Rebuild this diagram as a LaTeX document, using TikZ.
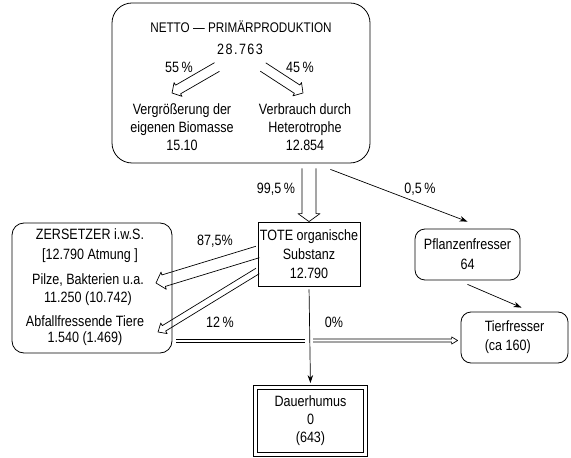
\documentclass[tikz,border=0pt]{standalone}
\usepackage{fontspec}
\setmainfont{Liberation Sans}[FakeStretch=0.84]
\usetikzlibrary{arrows.meta,calc,positioning}

\tikzset{
  box/.style={draw,line width=.8pt,rounded corners=10bp,inner sep=0pt},
  sqbox/.style={draw,line width=.8pt,inner sep=0pt},
  txt/.style={align=center,inner sep=0pt},
  flow/.style={line width=.7pt,-{Stealth[length=8bp,width=5.5bp]}},
  twin/.style={line width=.7pt},
}
% wide open arrow: from, to, half width, head length, head spread
\newcommand\hollowarrow[5]{%
  \draw[line width=.7pt,line join=round] let \p1=($(#2)-(#1)$), \n1={atan2(\y1,\x1)}, \n2={veclen(\x1,\y1)} in
    [shift={(#1)},rotate=\n1]
    (0pt,#3pt) -- (\n2-#4pt,#3pt) -- (\n2-#4pt,#3pt+#5pt) -- (\n2,0pt)
    -- (\n2-#4pt,-#3pt-#5pt) -- (\n2-#4pt,-#3pt) -- (0pt,-#3pt);}

\begin{document}
\begin{tikzpicture}[x=1bp,y=-1bp,every node/.style={font=\fontsize{15}{18}\selectfont}]
\useasboundingbox (0,0) rectangle (571,458);
% boxes
\node[box,rounded corners=20bp,minimum width=258bp,minimum height=160bp] (npp) at (241,83) {};
\node[box,rounded corners=12bp,minimum width=160bp,minimum height=130bp] (zers) at (92,288) {};
\node[sqbox,txt,minimum width=102bp,minimum height=64bp,font=\fontsize{15}{19}\selectfont] (tote) at (309,254) {TOTE organische\\Substanz\\12.790};
\node[box,txt,minimum width=105bp,minimum height=51bp,font=\fontsize{15}{20}\selectfont] (pflanz) at (467.5,254.5) {Pflanzenfresser\\64};
\node[box,align=left,minimum width=107bp,minimum height=51bp,font=\fontsize{15}{19}\selectfont] (tier) at (514.5,337.5) {Tierfresser\\(ca 160)};
\node[sqbox,txt,double,double distance=3bp,minimum width=110bp,minimum height=67bp] (dauer) at (310.5,421) {Dauerhumus\\0\\(643)};

% texts in the top box
\node[txt,font=\fontsize{14}{15}\selectfont] (title) at (241,27) {NETTO \textemdash\ PRIMÄRPRODUKTION};
\node[txt,font=\fontsize{15}{18}\selectfont\addfontfeature{LetterSpace=10}] (npptotal) at (240,49) {28.763};
\node[txt] (p55) at (179,67) {55\,\%};
\node[txt] (p45) at (300,67) {45\,\%};
\node[txt] (biomasse) at (182,127) {Vergrößerung der\\eigenen Biomasse\\15.10};
\node[txt] (verbrauch) at (305,127) {Verbrauch durch\\Heterotrophe\\12.854};

% texts in the decomposer box
\node[txt,font=\fontsize{15}{20}\selectfont] (zname) at (90,246) {ZERSETZER i.w.S.\\{[}12.790 Atmung ]};
\node[txt] (zpilze) at (88,290) {Pilze, Bakterien u.a.\\11.250 (10.742)};
\node[txt,font=\fontsize{15}{16}\selectfont] (zabfall) at (85,331) {Abfallfressende Tiere\\1.540 (1.469)};

% labels
\node[txt] (l995) at (276,189) {99,5\,\%};
\node[txt] (l05) at (420,189) {0,5\,\%};
\node[txt] (l875) at (215,241) {87,5\%};
\node[txt] (l12) at (220,322) {12\,\%};
\node[txt] (l0) at (334,322) {0\%};

% open arrows
\coordinate (bl0) at (217,67);
\coordinate (bl1) at (172,93);
\coordinate (br0) at (263,67);
\coordinate (br1) at (303,93);
\coordinate (d0) at ([yshift=-5bp]npp.south -| tote.north);
\coordinate (z0) at ([yshift=2bp]tote.west);
\coordinate (z1) at (156,283);
\coordinate (a0) at ([yshift=-17bp]tote.west);
\coordinate (a1) at (158,332);
\hollowarrow{bl0}{bl1}{5}{7}{3}
\hollowarrow{br0}{br1}{5}{7}{3}
\hollowarrow{d0}{tote.north}{7}{8}{4}
\hollowarrow{z0}{z1}{6}{8}{3}
\hollowarrow{a0}{a1}{3.2}{7}{3}

% double line to Tierfresser, broken where the humus line crosses
\coordinate (h0) at ([xshift=4bp,yshift=-3bp]zers.east |- tier.west);
\coordinate (hx) at (tote.south |- h0);
\coordinate (hx1) at ([xshift=-4bp]hx);
\coordinate (hx2) at ([xshift=4bp]hx);
\coordinate (h1) at ([xshift=-3bp]tier.west |- h0);
\draw[twin] ([yshift=1.6bp]h0) -- ([yshift=1.6bp]hx1);
\draw[twin] ([yshift=-1.6bp]h0) -- ([yshift=-1.6bp]hx1);
\hollowarrow{hx2}{h1}{1.6}{6}{2}

% thin arrows
\draw[flow] ([xshift=-40bp,yshift=-6bp]npp.south east) -- ([yshift=7bp]pflanz.north);
\draw[flow] ([yshift=-4bp]pflanz.south) -- ([xshift=7bp,yshift=4bp]tier.north);
\draw[flow,shorten <=3bp,shorten >=4bp] (tote.south) -- (dauer.north);
\end{tikzpicture}
\end{document}
